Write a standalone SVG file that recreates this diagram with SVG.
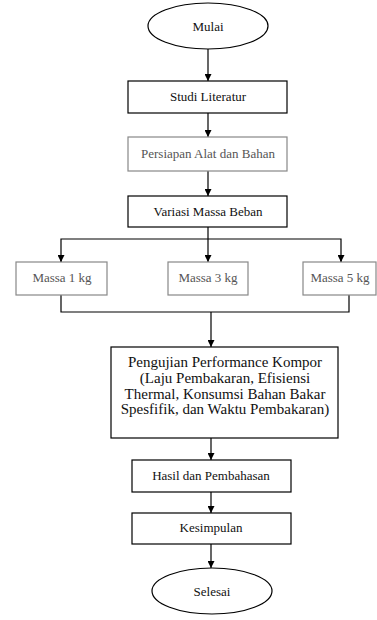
<svg xmlns="http://www.w3.org/2000/svg" width="377" height="620" viewBox="0 0 377 620">
<style>
.box{fill:#fff;stroke:#000;stroke-width:1.2}
.gbox{fill:#fff;stroke:#888;stroke-width:1.2}
.t{font-family:'Liberation Serif','Times New Roman',Times,'DejaVu Serif',serif;font-size:13px;fill:#111;text-anchor:middle}
.gt{fill:#555}
.big{font-size:15px}
.c{fill:none;stroke:#000;stroke-width:1.2}
</style>
<defs>
<marker id="ah" viewBox="0 0 8 8" refX="8" refY="4" markerWidth="7" markerHeight="7" markerUnits="userSpaceOnUse" orient="auto">
<path d="M0,0 L8,4 L0,8 Z" fill="#000"/>
</marker>
</defs>
<rect width="377" height="620" fill="#fff"/>
<g id="connectors">
<line class="c" x1="208" y1="49" x2="208" y2="81" marker-end="url(#ah)"/>
<line class="c" x1="208" y1="113" x2="208" y2="137" marker-end="url(#ah)"/>
<line class="c" x1="208" y1="171" x2="208" y2="196" marker-end="url(#ah)"/>
<line class="c" x1="208" y1="227" x2="208" y2="262" marker-end="url(#ah)"/>
<polyline class="c" points="61,262 61,239 341,239 341,262"/>
<line class="c" x1="61" y1="255" x2="61" y2="262" marker-end="url(#ah)"/>
<line class="c" x1="341" y1="255" x2="341" y2="262" marker-end="url(#ah)"/>
<polyline class="c" points="61,295 61,312 349,312 349,295"/>
<line class="c" x1="211" y1="312" x2="211" y2="347" marker-end="url(#ah)"/>
<line class="c" x1="211" y1="438" x2="211" y2="460" marker-end="url(#ah)"/>
<line class="c" x1="211" y1="492" x2="211" y2="513" marker-end="url(#ah)"/>
<line class="c" x1="211" y1="544" x2="211" y2="568" marker-end="url(#ah)"/>
</g>
<g id="mulai">
<ellipse class="box" cx="208" cy="26" rx="60" ry="23"/>
<text class="t" x="208" y="31">Mulai</text>
</g>
<g id="studi">
<rect class="box" x="128" y="81" width="159" height="32"/>
<text class="t" x="208" y="101">Studi Literatur</text>
</g>
<g id="persiapan">
<rect class="gbox" x="128" y="137" width="159" height="34"/>
<text class="t gt" x="208" y="158">Persiapan Alat dan Bahan</text>
</g>
<g id="variasi">
<rect class="box" x="128" y="196" width="159" height="31"/>
<text class="t" x="208" y="216">Variasi Massa Beban</text>
</g>
<g id="massa1">
<rect class="gbox" x="16" y="262" width="91" height="33"/>
<text class="t gt" x="62" y="282">Massa 1 kg</text>
</g>
<g id="massa3">
<rect class="gbox" x="168" y="262" width="80" height="33"/>
<text class="t gt" x="208" y="282">Massa 3 kg</text>
</g>
<g id="massa5">
<rect class="gbox" x="303" y="262" width="73" height="33"/>
<text class="t gt" x="340" y="282">Massa 5 kg</text>
</g>
<g id="pengujian">
<rect class="box" x="111" y="347" width="227" height="91"/>
<text class="t big" x="225" y="367">Pengujian Performance Kompor</text>
<text class="t big" x="225" y="383">(Laju Pembakaran, Efisiensi</text>
<text class="t big" x="225" y="398.5">Thermal, Konsumsi Bahan Bakar</text>
<text class="t big" x="225" y="414">Spesfifik, dan Waktu Pembakaran)</text>
</g>
<g id="hasil">
<rect class="box" x="132" y="460" width="159" height="32" stroke="#444"/>
<text class="t" x="211" y="480">Hasil dan Pembahasan</text>
</g>
<g id="kesimpulan">
<rect class="box" x="132" y="513" width="159" height="31"/>
<text class="t" x="211" y="532">Kesimpulan</text>
</g>
<g id="selesai">
<ellipse class="box" cx="212" cy="591" rx="60" ry="23"/>
<text class="t" x="212" y="596">Selesai</text>
</g>
</svg>
